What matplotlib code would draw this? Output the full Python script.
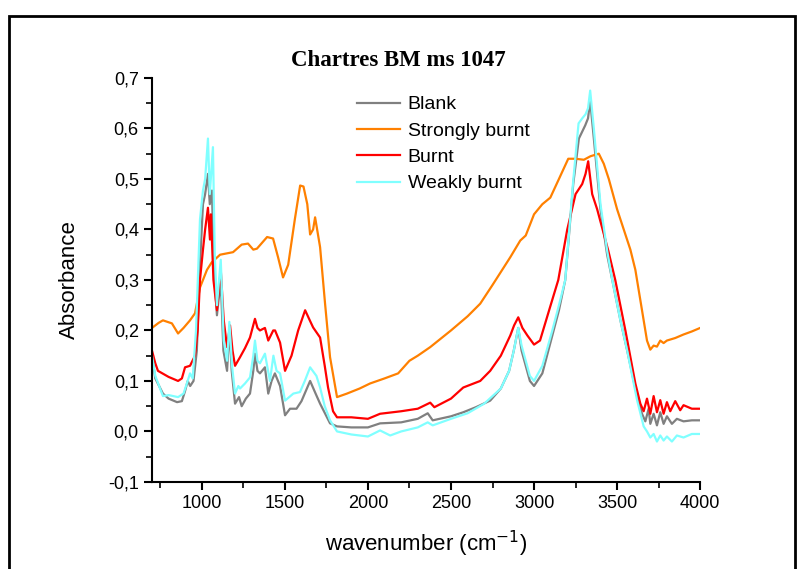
import matplotlib
matplotlib.use('Agg')
import matplotlib.pyplot as plt
from matplotlib.patches import Rectangle
from matplotlib.ticker import MultipleLocator, FuncFormatter

# spectra (wavenumber in cm-1, absorbance)
wn_blank = [700, 720, 766, 800, 851, 880, 899, 915, 930, 950, 970, 989, 1007, 1020, 1037, 1048,
            1061, 1072, 1091, 1114, 1130, 1152, 1166, 1180, 1200, 1224, 1240, 1265, 1290, 1310,
            1320, 1335, 1350, 1380, 1400, 1420, 1440, 1471, 1501, 1531, 1570, 1600, 1652, 1685,
            1712, 1772, 1814, 1900, 2000, 2073, 2200, 2300, 2360, 2390, 2500, 2574, 2650, 2736,
            2800, 2850, 2878, 2905, 2925, 2950, 2975, 3000, 3050, 3110, 3150, 3188, 3236, 3270,
            3308, 3325, 3338, 3360, 3400, 3440, 3471, 3520, 3561, 3600, 3621, 3650, 3670, 3690,
            3700, 3720, 3740, 3760, 3780, 3800, 3830, 3860, 3900, 3950, 4000]
abs_blank = [0.150, 0.105, 0.075, 0.065, 0.058, 0.060, 0.080, 0.100, 0.090, 0.100, 0.160, 0.330,
             0.450, 0.470, 0.510, 0.450, 0.477, 0.330, 0.230, 0.300, 0.160, 0.120, 0.205, 0.120,
             0.055, 0.068, 0.050, 0.065, 0.075, 0.120, 0.154, 0.120, 0.115, 0.127, 0.075, 0.100,
             0.115, 0.090, 0.032, 0.045, 0.045, 0.060, 0.100, 0.075, 0.055, 0.016, 0.010, 0.008,
             0.008, 0.016, 0.018, 0.025, 0.036, 0.022, 0.030, 0.038, 0.048, 0.061, 0.085, 0.120,
             0.160, 0.205, 0.160, 0.130, 0.100, 0.090, 0.115, 0.190, 0.240, 0.300, 0.490, 0.580,
             0.606, 0.620, 0.655, 0.580, 0.440, 0.350, 0.300, 0.220, 0.160, 0.100, 0.070, 0.035,
             0.020, 0.045, 0.015, 0.035, 0.012, 0.038, 0.015, 0.030, 0.015, 0.025, 0.020, 0.022,
             0.022]

wn_strong = [700, 740, 766, 820, 857, 890, 929, 959, 989, 1031, 1060, 1110, 1188, 1240, 1278, 1310,
             1332, 1393, 1429, 1459, 1489, 1520, 1560, 1592, 1612, 1635, 1652, 1670, 1682, 1712,
             1742, 1772, 1814, 1874, 1950, 2013, 2100, 2182, 2250, 2300, 2375, 2500, 2600, 2676,
             2750, 2857, 2917, 2950, 3000, 3050, 3098, 3150, 3206, 3250, 3300, 3340, 3390, 3420,
             3450, 3500, 3540, 3580, 3610, 3650, 3680, 3700, 3720, 3740, 3760, 3780, 3800, 3850,
             3900, 3950, 4000]
abs_strong = [0.205, 0.215, 0.220, 0.214, 0.194, 0.205, 0.220, 0.234, 0.285, 0.320, 0.335, 0.350,
              0.355, 0.370, 0.372, 0.360, 0.362, 0.385, 0.382, 0.345, 0.305, 0.330, 0.420, 0.487,
              0.485, 0.450, 0.390, 0.400, 0.424, 0.365, 0.253, 0.147, 0.068, 0.075, 0.085, 0.095,
              0.105, 0.115, 0.140, 0.150, 0.167, 0.200, 0.228, 0.253, 0.290, 0.345, 0.378, 0.388,
              0.430, 0.450, 0.463, 0.500, 0.540, 0.540, 0.538, 0.545, 0.550, 0.530, 0.500, 0.440,
              0.400, 0.360, 0.320, 0.240, 0.180, 0.162, 0.170, 0.168, 0.180, 0.175, 0.180, 0.185,
              0.192, 0.198, 0.205]

wn_burnt = [700, 720, 736, 800, 857, 880, 899, 929, 959, 975, 989, 1007, 1020, 1037, 1049, 1055,
            1070, 1091, 1114, 1132, 1152, 1170, 1185, 1200, 1230, 1260, 1290, 1320, 1335, 1350,
            1380, 1400, 1430, 1441, 1471, 1501, 1540, 1580, 1622, 1650, 1670, 1712, 1740, 1760,
            1790, 1814, 1900, 2000, 2073, 2200, 2300, 2375, 2400, 2500, 2574, 2676, 2736, 2800,
            2857, 2880, 2905, 2930, 2960, 3000, 3036, 3100, 3146, 3200, 3250, 3290, 3310, 3326,
            3350, 3380, 3447, 3489, 3550, 3610, 3640, 3660, 3680, 3700, 3720, 3740, 3760, 3780,
            3800, 3820, 3850, 3880, 3900, 3950, 4000]
abs_burnt = [0.160, 0.135, 0.120, 0.108, 0.100, 0.105, 0.127, 0.130, 0.150, 0.200, 0.300, 0.360,
             0.400, 0.443, 0.380, 0.430, 0.300, 0.240, 0.320, 0.220, 0.167, 0.210, 0.160, 0.130,
             0.147, 0.165, 0.186, 0.223, 0.205, 0.200, 0.205, 0.180, 0.200, 0.200, 0.176, 0.120,
             0.150, 0.200, 0.240, 0.220, 0.206, 0.186, 0.130, 0.087, 0.040, 0.028, 0.028, 0.025,
             0.035, 0.040, 0.045, 0.057, 0.048, 0.065, 0.087, 0.100, 0.120, 0.150, 0.190, 0.210,
             0.226, 0.205, 0.190, 0.172, 0.180, 0.250, 0.300, 0.400, 0.470, 0.490, 0.510, 0.535,
             0.470, 0.440, 0.358, 0.300, 0.200, 0.095, 0.055, 0.040, 0.065, 0.035, 0.070, 0.038,
             0.062, 0.035, 0.058, 0.040, 0.060, 0.042, 0.052, 0.045, 0.045]

wn_weak = [700, 720, 766, 800, 857, 890, 915, 929, 945, 965, 989, 1007, 1020, 1037, 1048, 1067,
           1078, 1091, 1114, 1132, 1152, 1166, 1182, 1200, 1220, 1230, 1260, 1290, 1310, 1320,
           1335, 1350, 1380, 1410, 1431, 1450, 1471, 1501, 1551, 1591, 1620, 1652, 1690, 1712,
           1740, 1772, 1814, 1900, 2000, 2073, 2134, 2200, 2300, 2360, 2390, 2500, 2600, 2700,
           2800, 2850, 2878, 2905, 2925, 2950, 2975, 3000, 3050, 3110, 3150, 3188, 3236, 3268,
           3290, 3310, 3325, 3338, 3360, 3400, 3440, 3471, 3520, 3561, 3600, 3621, 3660, 3680,
           3700, 3720, 3740, 3760, 3780, 3800, 3830, 3860, 3900, 3950, 4000]
abs_weak = [0.150, 0.110, 0.070, 0.072, 0.068, 0.075, 0.100, 0.115, 0.105, 0.200, 0.420, 0.477,
            0.500, 0.580, 0.470, 0.563, 0.350, 0.250, 0.340, 0.180, 0.140, 0.217, 0.130, 0.075,
            0.090, 0.085, 0.095, 0.107, 0.150, 0.180, 0.140, 0.135, 0.154, 0.100, 0.150, 0.120,
            0.115, 0.061, 0.075, 0.078, 0.100, 0.127, 0.110, 0.087, 0.050, 0.022, 0.000, -0.006,
            -0.010, 0.002, -0.008, 0.000, 0.008, 0.018, 0.012, 0.025, 0.036, 0.055, 0.085, 0.120,
            0.160, 0.205, 0.170, 0.140, 0.110, 0.100, 0.130, 0.200, 0.250, 0.300, 0.497, 0.610,
            0.620, 0.628, 0.640, 0.675, 0.600, 0.450, 0.358, 0.300, 0.220, 0.160, 0.095, 0.061,
            0.010, 0.000, -0.012, -0.005, -0.020, -0.008, -0.018, -0.010, -0.020, -0.008, -0.012,
            -0.005, -0.005]

series = [
    ('Blank', wn_blank, abs_blank, '#808080'),
    ('Strongly burnt', wn_strong, abs_strong, '#ff8000'),
    ('Burnt', wn_burnt, abs_burnt, '#ff0000'),
    ('Weakly burnt', wn_weak, abs_weak, '#80ffff'),
]

plt.rcParams['font.family'] = ['Liberation Sans', 'DejaVu Sans']

fig = plt.figure(figsize=(8.02, 5.69), dpi=100)
ax = fig.add_axes([0.1895, 0.153, 0.6835, 0.71])

for name, x, y, c in series:
    ax.plot(x, y, color=c, lw=1.6, label=name)

ax.set_xlim(700, 4000)
ax.set_ylim(-0.1, 0.7)
ax.xaxis.set_major_locator(MultipleLocator(500))
ax.xaxis.set_minor_locator(MultipleLocator(250))
ax.yaxis.set_major_locator(MultipleLocator(0.1))
ax.yaxis.set_minor_locator(MultipleLocator(0.05))
# comma as decimal separator
ax.yaxis.set_major_formatter(FuncFormatter(lambda v, p: '{:.1f}'.format(v).replace('.', ',').replace('-0,0', '0,0')))

for s in ['top', 'right']:
    ax.spines[s].set_visible(False)
for s in ['left', 'bottom']:
    ax.spines[s].set_linewidth(1.5)
ax.tick_params(which='major', direction='out', length=6, width=1.5, labelsize=13)
ax.tick_params(which='minor', direction='out', length=4, width=1.2)

ax.set_xlabel('wavenumber (cm$^{-1}$)', fontsize=16, labelpad=12)
ax.set_ylabel('Absorbance', fontsize=16, labelpad=20)

ax.legend(loc='upper left', bbox_to_anchor=(0.374, 0.956), frameon=False, fontsize=14,
          handlelength=2.2, handletextpad=0.4, labelspacing=0.45, borderpad=0, borderaxespad=0)

fig.text(398 / 802, 1 - 60 / 569, 'Chartres BM ms 1047', ha='center', va='center',
         fontsize=16.5, fontweight='bold', family='Liberation Serif')

# outer frame
fig.add_artist(Rectangle((9 / 802, -0.1), 786 / 802, 1.1 - 16 / 569, transform=fig.transFigure,
                         fill=False, lw=2, edgecolor='black'))

fig.savefig('out.png', dpi=100)
